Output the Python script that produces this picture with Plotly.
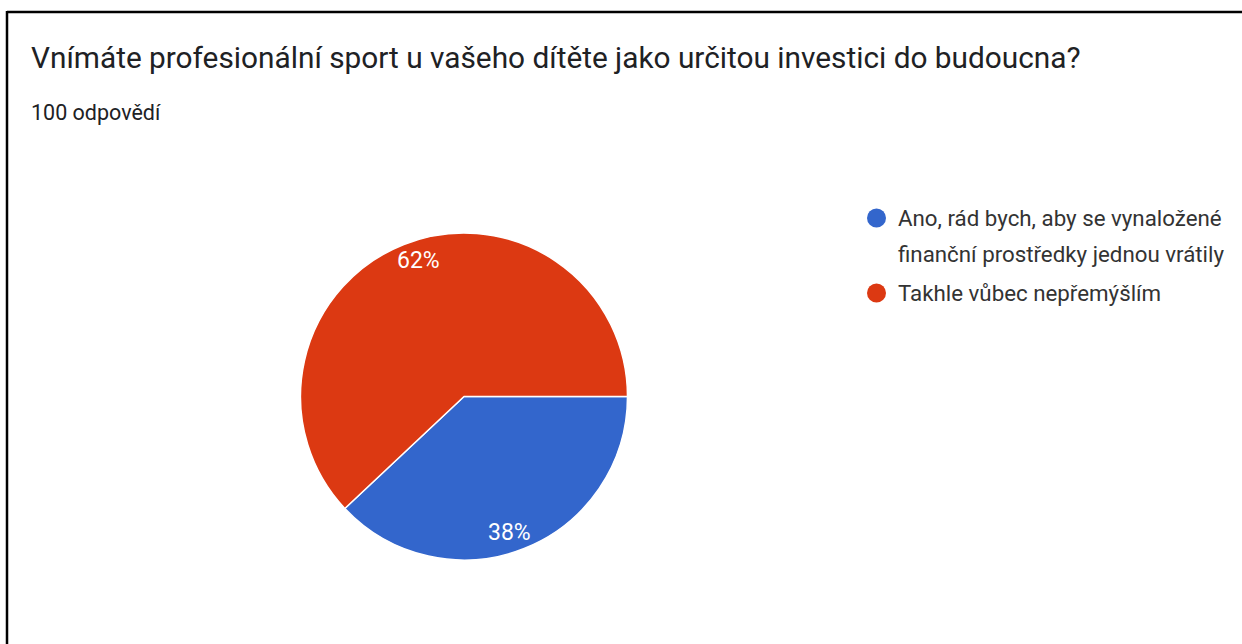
import math
import plotly.graph_objects as go

W, H = 1242, 644

labels = ["Ano, rád bych, aby se vynaložené finanční prostředky jednou vrátily",
          "Takhle vůbec nepřemýšlím"]
legend_lines = [["Ano, rád bych, aby se vynaložené", "finanční prostředky jednou vrátily"],
                ["Takhle vůbec nepřemýšlím"]]
values = [38, 62]
colors = ["#3366cc", "#dc3912"]
title = "Vnímáte profesionální sport u vašeho dítěte jako určitou investici do budoucna?"
subtitle = "100 odpovědí"

FONT = "Roboto, Arial, sans-serif"
TXT = "#202124"

def px(x):
    return x / W

def py(y):
    return 1 - y / H

# pie geometry (pixels)
CX, CY, R = 464, 396.5, 163.5
START_DEG = 90  # clockwise from 12 o'clock
LABEL_R = 0.875
LABEL_ROT = 3

fig = go.Figure()
fig.add_trace(go.Pie(
    labels=labels, values=values, sort=False, direction="clockwise", rotation=START_DEG,
    marker=dict(colors=colors, line=dict(color="white", width=1.5)),
    textinfo="none",
    domain=dict(x=[px(CX - R), px(CX + R)], y=[py(CY + R), py(CY - R)]),
    showlegend=False, hoverinfo="label+percent",
))

shapes = [
    dict(type="line", xref="paper", yref="paper", x0=px(7), x1=px(1250), y0=py(12), y1=py(12),
         line=dict(color="black", width=2.5)),
    dict(type="line", xref="paper", yref="paper", x0=px(7), x1=px(7), y0=py(11), y1=py(650),
         line=dict(color="black", width=2.5)),
]
annotations = [
    dict(text=title, x=px(29), y=py(57), xref="paper", yref="paper", xanchor="left", yanchor="middle",
         showarrow=False, font=dict(size=29.8, color=TXT, family=FONT)),
    dict(text=subtitle, x=px(29), y=py(113), xref="paper", yref="paper", xanchor="left", yanchor="middle",
         showarrow=False, font=dict(size=21.5, color=TXT, family=FONT)),
]

# percentage labels placed along each slice's mid angle
total = sum(values)
acc = 0
for v in values:
    mid = START_DEG + (acc + v / 2) / total * 360 + LABEL_ROT
    acc += v
    a = math.radians(mid)
    lx = CX + LABEL_R * R * math.sin(a)
    ly = CY - LABEL_R * R * math.cos(a)
    annotations.append(dict(text=f"{round(v / total * 100)}%", x=px(lx), y=py(ly),
                            xref="paper", yref="paper", xanchor="center", yanchor="middle",
                            showarrow=False, font=dict(size=23, color="white", family=FONT)))

row_y = [[218, 254], [293]]
for i, lines in enumerate(legend_lines):
    cy = row_y[i][0]
    shapes.append(dict(type="circle", xref="paper", yref="paper",
                       x0=px(867), x1=px(886), y0=py(cy + 9.5), y1=py(cy - 9.5),
                       fillcolor=colors[i], line=dict(width=0)))
    for j, ln in enumerate(lines):
        annotations.append(dict(text=ln, x=px(896), y=py(row_y[i][j]), xref="paper", yref="paper",
                                xanchor="left", yanchor="middle", showarrow=False,
                                font=dict(size=22.3, color="#333333", family=FONT)))

fig.update_layout(
    width=W, height=H, margin=dict(l=0, r=0, t=0, b=0),
    paper_bgcolor="white", plot_bgcolor="white",
    shapes=shapes, annotations=annotations,
)

fig.write_html("out.html", config={"displayModeBar": False},
               post_script="document.body.style.margin='0';document.body.style.overflow='hidden';")
